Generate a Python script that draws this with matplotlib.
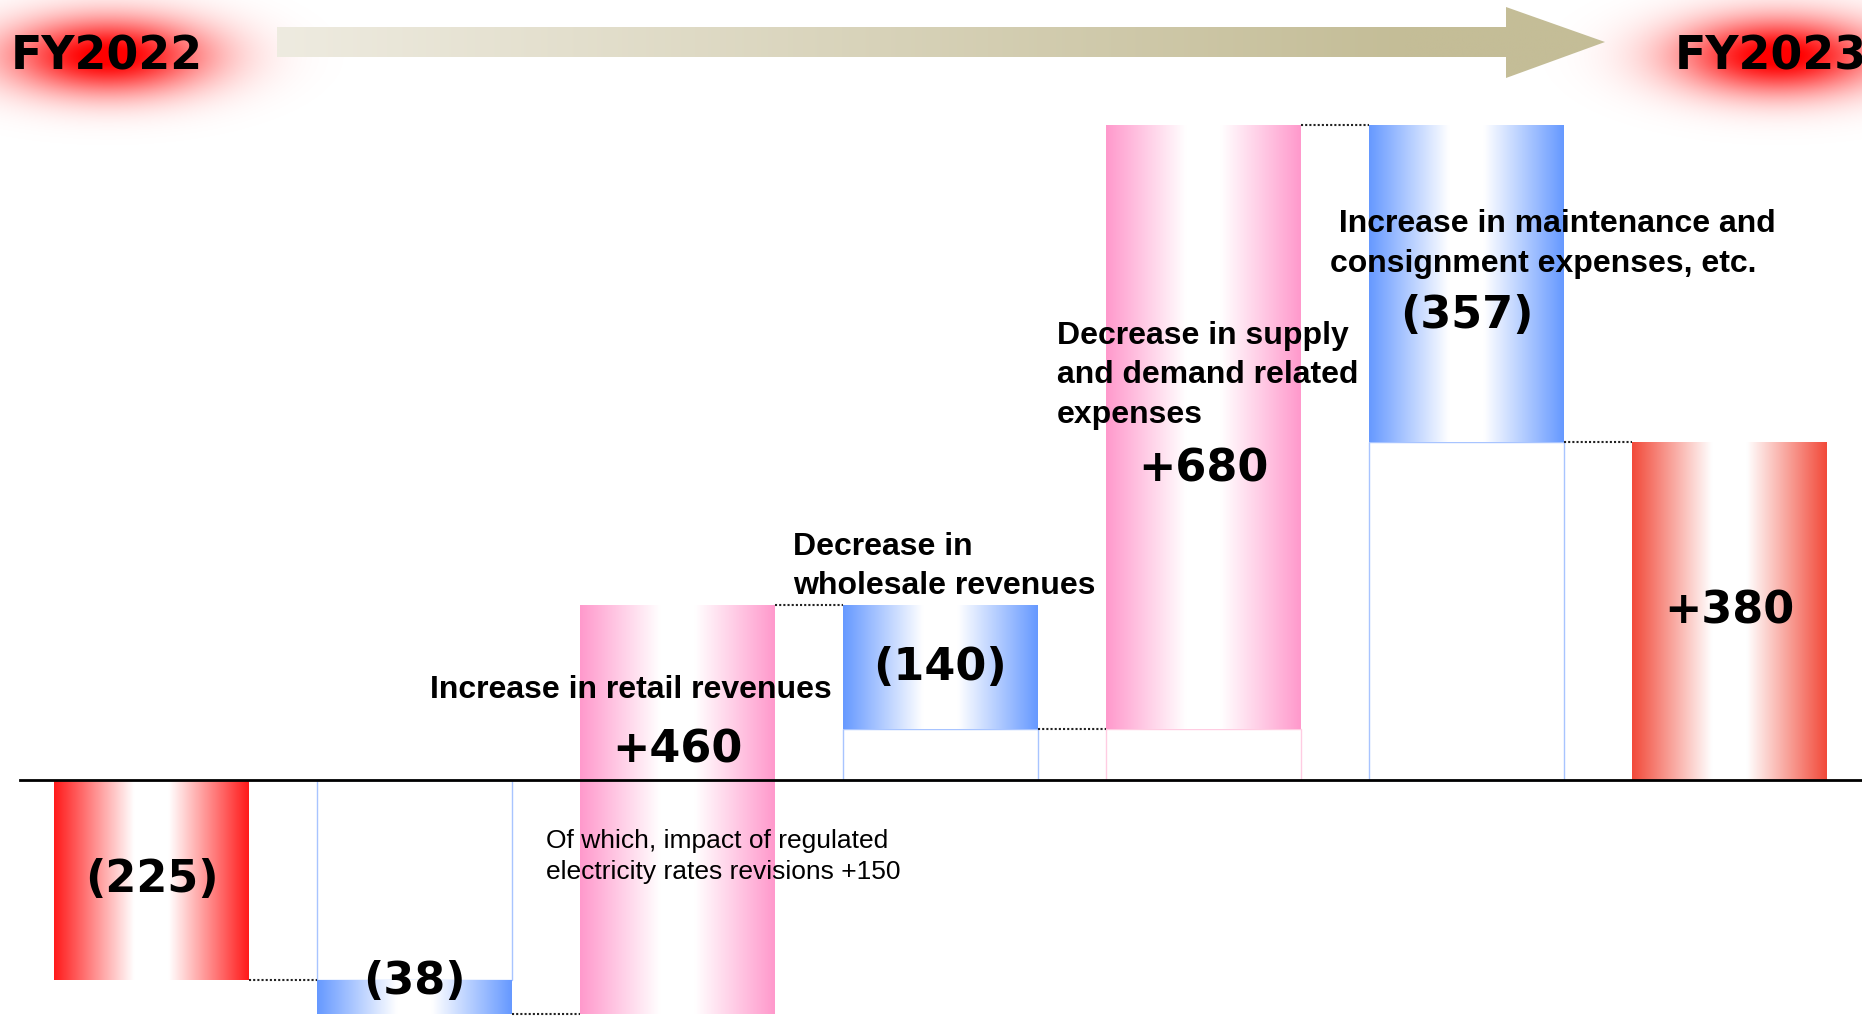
import numpy as np
import matplotlib.pyplot as plt
from matplotlib.colors import to_rgb
from matplotlib.patches import Polygon

# --- data ---
values = [-225, -38, 460, -140, 680, -357, 380]
kinds = ['total', 'down', 'up', 'down', 'up', 'down', 'total_end']
value_labels = ['(225)', '(38)', '+460', '(140)', '+680', '(357)', '+380']
start_label = 'FY2022'
end_label = 'FY2023'

# --- style ---
EDGE = {'total': '#FF1A1A', 'down': '#6699FF', 'up': '#FF99CC', 'total_end': '#F24A3A'}
OUTLINE = {'down': '#A8C4FF', 'up': '#FFCCE2'}
BAR_W = 0.738

# label positions (data units)
label_y = [-112, -227, 34, 127, 350, 522, 190]

x = np.arange(len(values))
bottoms, heights, ends = [], [], []
run = 0
for v, k in zip(values, kinds):
    if k.startswith('total'):
        bottoms.append(0)
        run = v
    else:
        bottoms.append(run)
        run += v
    heights.append(v)
    ends.append(run)

fig = plt.figure(figsize=(18.62, 10.16), dpi=100)
ax = fig.add_axes([0, 0, 1, 1])
ax.axis('off')
XL, YL = (-0.576, 6.504), (-265.5, 877.4)


def gradient_img(color, n=256):
    u = np.linspace(0, 1, n)
    w = np.clip((np.abs(2 * u - 1) - 0.18) / 0.82, 0, 1)
    c = np.array(to_rgb(color))
    img = (1 - w)[:, None] * np.ones(3) + w[:, None] * c
    return img[None, :, :]


# invisible base boxes with thin outline
for i, k in enumerate(kinds):
    if k.startswith('total'):
        continue
    lo, hi = sorted([bottoms[i], bottoms[i] + heights[i]])
    if lo > 0:
        ax.bar(x[i], lo, bottom=0, width=BAR_W, color='none',
               edgecolor=OUTLINE[k], linewidth=1, zorder=1)
    elif hi < 0:
        ax.bar(x[i], hi, bottom=0, width=BAR_W, color='none',
               edgecolor=OUTLINE[k], linewidth=1, zorder=1)

bars = ax.bar(x, heights, bottom=bottoms, width=BAR_W, color='none',
              edgecolor='none', zorder=2)
for patch, k in zip(bars, kinds):
    x0, y0 = patch.get_x(), patch.get_y()
    x1, y1 = x0 + patch.get_width(), y0 + patch.get_height()
    im = ax.imshow(gradient_img(EDGE[k]), extent=(x0, x1, min(y0, y1), max(y0, y1)),
                   aspect='auto', interpolation='bilinear', zorder=2)
    im.set_clip_path(patch)

# dotted connectors
for i in range(len(values) - 1):
    ax.plot([x[i] + BAR_W / 2, x[i + 1] - BAR_W / 2], [ends[i], ends[i]],
            color='#222222', lw=1.5, linestyle=(0, (1, 1)), zorder=3)

ax.axhline(0, xmin=0.011, xmax=1, color='black', lw=2, zorder=4)

# value labels
for xi, yi, s in zip(x, label_y, value_labels):
    ax.text(xi, yi, s, ha='center', va='center', fontsize=32,
            fontweight='bold', family='DejaVu Sans', zorder=5)

desc_kw = dict(fontsize=23, fontweight='bold', family='Liberation Sans', zorder=5)
ax.text(1.823, 101, 'Increase in retail revenues', ha='center', va='center', **desc_kw)
ax.text(2.439, 240, 'Decrease in\nwholesale revenues', ha='left', va='center',
        linespacing=1.4, **desc_kw)
ax.text(3.443, 455, 'Decrease in supply\nand demand related\nexpenses', ha='left',
        va='center', linespacing=1.4, **desc_kw)
ax.text(4.481, 603, ' Increase in maintenance and\nconsignment expenses, etc.', ha='left',
        va='center', linespacing=1.4, **desc_kw)
ax.text(1.500, -86, 'Of which, impact of regulated\nelectricity rates revisions +150',
        ha='left', va='center', fontsize=19, family='Liberation Sans',
        linespacing=1.4, zorder=5)

ax.set_xlim(*XL)
ax.set_ylim(*YL)

# --- header overlay (pixel-like coordinates) ---
hd = fig.add_axes([0, 0, 1, 1])
hd.axis('off')
hd.set_xlim(0, 1862)
hd.set_ylim(1016, 0)


def glow(cx, cy, sx=100, sy=38):
    gx = np.linspace(cx - 3 * sx, cx + 3 * sx, 300)
    gy = np.linspace(cy - 3 * sy, cy + 3 * sy, 150)
    X, Y = np.meshgrid(gx, gy)
    a = np.exp(-(((X - cx) / sx) ** 2 + ((Y - cy) / sy) ** 2))
    img = np.zeros(X.shape + (4,))
    img[..., 0] = 1.0
    img[..., 3] = np.clip(a * 1.05, 0, 1)
    hd.imshow(img, extent=(gx[0], gx[-1], gy[-1], gy[0]), aspect='auto',
              interpolation='bilinear', zorder=1)


glow(108, 56)
glow(1778, 56)
hd.text(11, 57, start_label, ha='left', va='center', fontsize=33,
        fontweight='bold', family='DejaVu Sans', zorder=3)
hd.text(1675, 57, end_label, ha='left', va='center', fontsize=33,
        fontweight='bold', family='DejaVu Sans', zorder=3)

# arrow with gradient fill
pts = [(277, 27), (1506, 27), (1506, 7), (1605, 42), (1506, 78), (1506, 57), (277, 57)]
arrow = Polygon(pts, closed=True, facecolor='none', edgecolor='none')
hd.add_patch(arrow)
u = np.linspace(0, 1, 256)
t = np.clip(u / 0.85, 0, 1)
c0, c1 = np.array(to_rgb('#EEEBE0')), np.array(to_rgb('#C4BD97'))
grad = ((1 - t)[:, None] * c0 + t[:, None] * c1)[None, :, :]
aim = hd.imshow(grad, extent=(277, 1605, 78, 7), aspect='auto',
                interpolation='bilinear', zorder=2)
aim.set_clip_path(arrow)
hd.set_xlim(0, 1862)
hd.set_ylim(1016, 0)

fig.savefig('out.png', dpi=100)
